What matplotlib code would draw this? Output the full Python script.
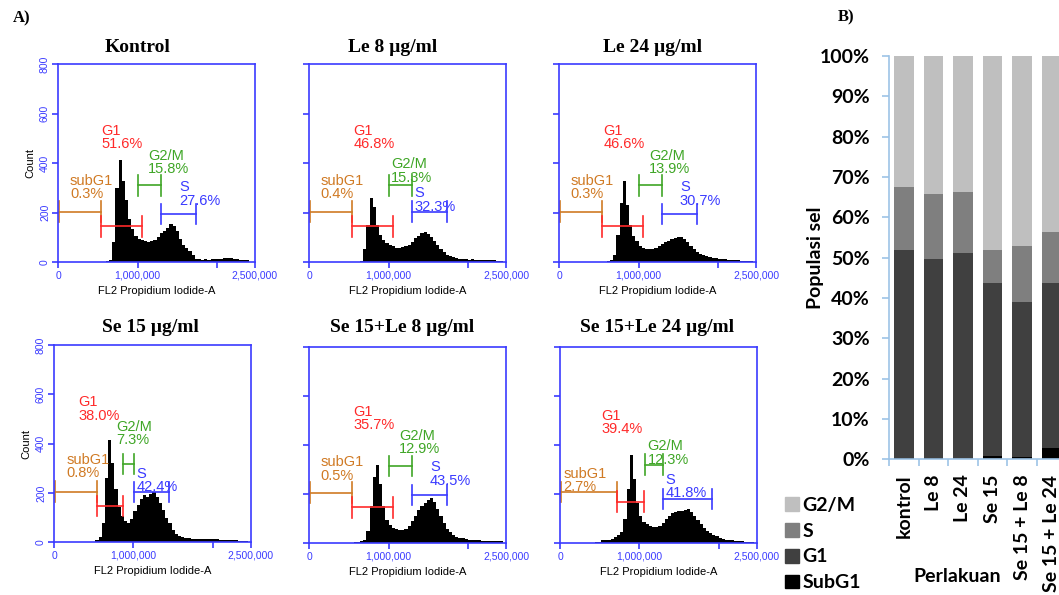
import matplotlib
matplotlib.use("Agg")
import matplotlib.pyplot as plt
from matplotlib.patches import Patch

W, H = 1059, 595
BIN = 40000  # bin width of the FL2 histograms

# ---- flow cytometry histograms (counts per 40,000 bin, 0 .. 2,440,000) ----
kontrol = [0] * 13 + [1, 2, 4, 9, 80, 300, 415, 330, 250, 175, 135, 105, 95, 90, 86, 83,
                      86, 92, 104, 118, 128, 140, 156, 148, 128, 96, 70, 56, 44, 28, 15, 12,
                      11, 12, 10, 13, 12, 14, 15, 18, 17, 19, 14, 12, 10, 11, 8, 3]
le8 = [0] * 12 + [2, 0, 0, 0, 5, 55, 150, 258, 225, 150, 110, 90, 78, 70, 64, 58, 56, 62,
                  64, 70, 82, 97, 108, 120, 124, 114, 104, 88, 68, 52, 40, 30, 24, 20, 16,
                  14, 12, 13, 11, 12, 10, 11, 9, 10, 9, 8, 9, 7, 5]
le24 = [0] * 14 + [3, 6, 9, 30, 110, 240, 330, 230, 150, 105, 85, 66, 58, 55, 52, 54, 58,
                   65, 72, 82, 88, 95, 98, 102, 104, 96, 80, 66, 52, 42, 34, 30, 25, 21,
                   19, 17, 15, 13, 12, 10, 9, 9, 8, 7, 6, 5, 4]
se15 = [0] * 8 + [2, 1, 2, 2, 3, 8, 20, 80, 260, 415, 320, 215, 145, 105, 85, 78, 95, 125,
                  150, 175, 190, 185, 195, 205, 185, 160, 130, 100, 78, 50, 35, 25, 20, 17,
                  16, 14, 15, 14, 13, 15, 14, 13, 14, 12, 11, 10, 10, 9, 8, 9, 7, 6, 4]
se15le8 = [0] * 11 + [3, 2, 3, 4, 5, 8, 14, 50, 150, 270, 318, 240, 150, 95, 74, 64, 58,
                      55, 54, 58, 70, 90, 112, 136, 150, 163, 175, 186, 168, 140, 110, 82,
                      60, 44, 34, 27, 22, 20, 16, 14, 13, 12, 12, 11, 10, 11, 9, 10, 8, 8]
se15le24 = [0] * 9 + [2, 3, 4, 6, 12, 14, 15, 16, 24, 34, 44, 100, 220, 360, 260, 165,
                      110, 88, 78, 72, 68, 66, 72, 84, 100, 112, 122, 126, 130, 132, 136,
                      138, 126, 112, 96, 80, 64, 52, 42, 34, 28, 23, 18, 15, 14, 12, 10, 9,
                      8, 7, 6, 5]

titles = ["Kontrol", "Le 8 µg/ml", "Le 24 µg/ml",
          "Se 15 µg/ml", "Se 15+Le 8 µg/ml", "Se 15+Le 24 µg/ml"]
histograms = [kontrol, le8, le24, se15, se15le8, se15le24]

# percentages: subG1, G1, G2/M, S
pct_subg1 = [0.3, 0.4, 0.3, 0.8, 0.5, 2.7]
pct_g1 = [51.6, 46.8, 46.6, 38.0, 35.7, 39.4]
pct_g2m = [15.8, 15.3, 13.9, 7.3, 12.9, 12.3]
pct_s = [27.6, 32.3, 30.7, 42.4, 43.5, 41.8]

# gate markers (x start, x end in millions, y in counts)
gate_subg1 = [(0.008, 0.538, 205), (0.008, 0.54, 205), (0.008, 0.54, 205),
              (0.013, 0.544, 205), (0.008, 0.54, 206), (0.008, 0.714, 209)]
gate_g1 = [(0.538, 1.05, 145), (0.54, 1.05, 145), (0.54, 1.05, 145),
           (0.544, 0.866, 147), (0.54, 1.05, 146), (0.714, 1.06, 169)]
gate_g2m = [(1.008, 1.294, 311), (1.01, 1.30, 311), (1.01, 1.30, 311),
            (0.866, 1.01, 317), (1.01, 1.30, 315), (1.07, 1.30, 320)]
gate_s = [(1.294, 1.735, 195), (1.30, 1.74, 205), (1.30, 1.74, 195),
          (1.01, 1.45, 204), (1.30, 1.74, 196), (1.30, 1.92, 180)]

# label anchors (x left in millions, y top in counts)
lab_subg1 = [(0.147, 358), (0.143, 358), (0.143, 358), (0.155, 363), (0.143, 358), (0.042, 312)]
lab_g1 = [(0.546, 560), (0.557, 560), (0.557, 560), (0.30, 597), (0.557, 563), (0.517, 547)]
lab_g2m = [(1.134, 458), (1.03, 425), (1.13, 458), (0.78, 496), (1.135, 465), (1.105, 424)]
lab_s = [(1.52, 331), (1.325, 307), (1.52, 331), (1.04, 307), (1.52, 337), (1.33, 286)]

# ---- stacked bar chart (B) ----
groups = ["kontrol", "Le 8", "Le 24", "Se 15", "Se 15 + Le 8", "Se 15 + Le 24"]
subg1 = [0.3, 0.4, 0.1, 0.8, 0.5, 2.7]
g1 = [51.7, 49.3, 51.0, 42.9, 38.5, 41.0]
s_phase = [15.6, 16.2, 15.3, 8.3, 13.8, 12.6]
g2m = [32.4, 34.1, 33.6, 48.0, 47.2, 43.7]

# pixel boxes (left, top, right, bottom) of the histogram frames
frames = [(58.3, 64.3, 255, 262.3), (309.3, 64.3, 506, 262.3), (559.3, 64.3, 756, 262.3),
          (54.3, 345, 250.7, 542.3), (309.3, 346.7, 506, 543.3), (560, 346.7, 756.7, 543.3)]
title_pos = [(138, 48), (393, 48), (653, 48), (150, 328), (402, 328), (657, 328)]

BLUE = "#3b3bff"
C_SUB, C_G1, C_G2M, C_S = "#d07a24", "#ff2a2a", "#3fa626", "#3a3aff"
BFONT = 14


def px_rect(l, t, r, b):
    return [l / W, 1 - b / H, (r - l) / W, (b - t) / H]


def gate(ax, x0, x1, y, color):
    x0, x1 = x0 * 1e6, x1 * 1e6
    ax.plot([x0, x1], [y, y], color=color, lw=1.2)
    for x in (x0, x1):
        ax.plot([x, x], [y - 42, y + 42], color=color, lw=1.2)


fig = plt.figure(figsize=(W / 100, H / 100), dpi=100)

for k in range(6):
    ax = fig.add_axes(px_rect(*frames[k]))
    counts = histograms[k]
    edges = [i * BIN for i in range(len(counts))]
    ax.bar(edges, counts, width=BIN, align="edge", color="black", linewidth=0)
    ax.set_xlim(0, 2.48e6)
    ax.set_ylim(0, 800)
    for sp in ax.spines.values():
        sp.set_color(BLUE)
        sp.set_linewidth(1.2)
    ax.set_xticks([0, 1e6, 2e6, 2.48e6])
    ax.set_xticklabels(["0", "1,000,000", "", "2,500,000"], fontsize=7.5, color=BLUE,
                       family="Liberation Sans")
    ax.set_yticks([0, 200, 400, 600, 800])
    ax.tick_params(colors=BLUE, length=4, width=1.2, pad=2)
    if k in (0, 3):
        ax.set_yticklabels(["0", "200", "400", "600", "800"], rotation=90, va="center",
                           fontsize=7.5, color=BLUE, family="Liberation Sans")
        ax.set_ylabel("Count", fontsize=8, family="Liberation Sans", labelpad=3)
    else:
        ax.set_yticklabels([])
    ax.set_xlabel("FL2 Propidium Iodide-A", fontsize=8, family="Liberation Sans", labelpad=4)

    gate(ax, *gate_subg1[k], C_SUB)
    gate(ax, *gate_g1[k], C_G1)
    gate(ax, *gate_g2m[k], C_G2M)
    gate(ax, *gate_s[k], C_S)
    for (x, y), name, p, c in [(lab_subg1[k], "subG1", pct_subg1[k], C_SUB),
                               (lab_g1[k], "G1", pct_g1[k], C_G1),
                               (lab_g2m[k], "G2/M", pct_g2m[k], C_G2M),
                               (lab_s[k], "S", pct_s[k], C_S)]:
        ax.text(x * 1e6, y, "%s\n%.1f%%" % (name, p), color=c, fontsize=10.5,
                family="Liberation Sans", ha="left", va="top", linespacing=0.95)

    tx, ty = title_pos[k]
    fig.text(tx / W, 1 - ty / H, titles[k], ha="center", va="center", fontsize=14,
             fontweight="bold", family="Liberation Serif")

fig.text(22 / W, 1 - 18 / H, "A)", ha="center", va="center", fontsize=12,
         fontweight="bold", family="Liberation Serif")
fig.text(846 / W, 1 - 17 / H, "B)", ha="center", va="center", fontsize=12,
         fontweight="bold", family="Liberation Serif")

# ---- panel B ----
bx = fig.add_axes(px_rect(889, 56, 1066.6, 459.3))
pos = list(range(len(groups)))
colors = ["#000000", "#404040", "#7f7f7f", "#bfbfbf"]
names = ["SubG1", "G1", "S", "G2/M"]
bottom = [0.0] * len(groups)
for vals, c in zip([subg1, g1, s_phase, g2m], colors):
    bx.bar(pos, vals, bottom=bottom, width=0.66, color=c, linewidth=0)
    bottom = [b + v for b, v in zip(bottom, vals)]
bx.set_xlim(-0.5, 5.5)
bx.set_ylim(0, 100)
AX = "#9dc3e6"
for side in ("top", "right"):
    bx.spines[side].set_visible(False)
for side in ("left", "bottom"):
    bx.spines[side].set_color(AX)
    bx.spines[side].set_linewidth(1.2)
bx.set_yticks(range(0, 101, 10))
bx.set_yticklabels(["%d%%" % v for v in range(0, 101, 10)], fontsize=BFONT,
                   fontweight="bold", family="Lato")
bx.tick_params(axis="y", colors=AX, labelcolor="black", length=5, width=1.2, pad=9)
bx.set_xticks(pos)
bx.set_xticklabels(groups, rotation=90, va="top", ha="center", fontsize=BFONT,
                   fontweight="bold", family="Lato")
bx.tick_params(axis="x", length=0, pad=11)
bx.set_xticks([p - 0.5 for p in pos], minor=True)
bx.tick_params(axis="x", which="minor", colors=AX, length=5, width=1.2)
fig.text(815 / W, 1 - 258 / H, "Populasi sel", rotation=90, ha="center", va="center",
         fontsize=BFONT, fontweight="bold", family="Lato")
fig.text(957 / W, 1 - 577 / H, "Perlakuan", ha="center", va="center",
         fontsize=BFONT, fontweight="bold", family="Lato")

handles = [Patch(color=c, label=n) for c, n in zip(colors[::-1], names[::-1])]
fig.legend(handles=handles, loc="upper left", bbox_to_anchor=(785 / W, 1 - 497 / H),
           frameon=False, prop={"weight": "bold", "family": "Lato", "size": BFONT},
           handlelength=0.7, handleheight=0.7, handletextpad=0.2, labelspacing=0.45,
           borderpad=0, borderaxespad=0)

fig.savefig("out.png", dpi=100)
